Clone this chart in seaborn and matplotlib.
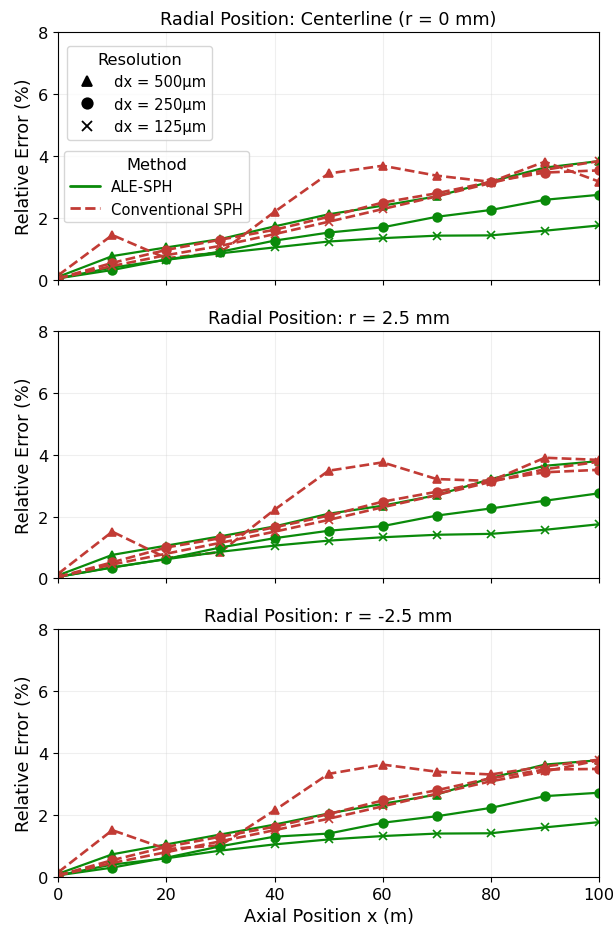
import pandas as pd
import matplotlib
matplotlib.use("Agg")
import matplotlib.pyplot as plt
import seaborn as sns
from matplotlib.lines import Line2D

sns.set_style("ticks")
plt.rcParams["text.color"] = "black"
plt.rcParams["axes.labelcolor"] = "black"
plt.rcParams["xtick.color"] = "black"
plt.rcParams["ytick.color"] = "black"

# axial positions (m)
x_pos = [0, 10, 20, 30, 40, 50, 60, 70, 80, 90, 100]

# --- Centerline (r = 0 mm) ---
c_ale_500 = [0.10, 0.77, 1.05, 1.32, 1.73, 2.12, 2.40, 2.70, 3.18, 3.63, 3.84]
c_ale_250 = [0.05, 0.32, 0.66, 0.91, 1.27, 1.53, 1.70, 2.04, 2.26, 2.59, 2.75]
c_ale_125 = [0.05, 0.40, 0.65, 0.86, 1.05, 1.24, 1.35, 1.43, 1.44, 1.59, 1.76]
c_conv_500 = [0.15, 1.45, 0.70, 0.89, 2.20, 3.44, 3.69, 3.37, 3.17, 3.82, 3.18]
c_conv_250 = [0.05, 0.55, 0.97, 1.30, 1.62, 2.04, 2.50, 2.80, 3.17, 3.47, 3.54]
c_conv_125 = [0.05, 0.45, 0.80, 1.10, 1.48, 1.88, 2.29, 2.70, 3.13, 3.56, 3.84]

# --- r = 2.5 mm ---
p_ale_500 = [0.10, 0.76, 1.06, 1.36, 1.68, 2.09, 2.35, 2.69, 3.21, 3.64, 3.79]
p_ale_250 = [0.05, 0.35, 0.63, 1.00, 1.30, 1.54, 1.69, 2.03, 2.26, 2.51, 2.75]
p_ale_125 = [0.05, 0.36, 0.62, 0.86, 1.06, 1.22, 1.33, 1.41, 1.44, 1.57, 1.75]
p_conv_500 = [0.15, 1.51, 0.66, 0.85, 2.22, 3.48, 3.75, 3.21, 3.15, 3.90, 3.83]
p_conv_250 = [0.05, 0.52, 1.00, 1.30, 1.65, 2.03, 2.48, 2.80, 3.15, 3.43, 3.51]
p_conv_125 = [0.05, 0.45, 0.80, 1.15, 1.51, 1.89, 2.30, 2.69, 3.12, 3.53, 3.77]

# --- r = -2.5 mm ---
n_ale_500 = [0.10, 0.73, 1.05, 1.37, 1.69, 2.05, 2.36, 2.66, 3.20, 3.63, 3.77]
n_ale_250 = [0.05, 0.30, 0.62, 0.99, 1.30, 1.40, 1.75, 1.96, 2.23, 2.61, 2.72]
n_ale_125 = [0.05, 0.40, 0.60, 0.85, 1.05, 1.21, 1.32, 1.40, 1.41, 1.60, 1.77]
n_conv_500 = [0.15, 1.51, 0.90, 1.02, 2.15, 3.33, 3.63, 3.40, 3.31, 3.57, 3.79]
n_conv_250 = [0.05, 0.54, 0.97, 1.30, 1.62, 2.03, 2.47, 2.80, 3.19, 3.47, 3.49]
n_conv_125 = [0.05, 0.45, 0.80, 1.15, 1.51, 1.88, 2.28, 2.69, 3.09, 3.41, 3.77]

titles = ["Radial Position: Centerline (r = 0 mm)",
          "Radial Position: r = 2.5 mm",
          "Radial Position: r = -2.5 mm"]

panels = [
    {"ALE": [c_ale_500, c_ale_250, c_ale_125], "Conv": [c_conv_500, c_conv_250, c_conv_125]},
    {"ALE": [p_ale_500, p_ale_250, p_ale_125], "Conv": [p_conv_500, p_conv_250, p_conv_125]},
    {"ALE": [n_ale_500, n_ale_250, n_ale_125], "Conv": [n_conv_500, n_conv_250, n_conv_125]},
]

resolutions = ["dx = 500\u00b5m", "dx = 250\u00b5m", "dx = 125\u00b5m"]
markers = ["^", "o", "x"]
green = "#0a8a0a"
red = "#c23b35"

fig, axes = plt.subplots(3, 1, figsize=(6.13, 9.28), dpi=100, sharex=True)
fig.subplots_adjust(left=0.095, right=0.977, top=0.964, bottom=0.054, hspace=0.206)

for ax, title, data in zip(axes, titles, panels):
    for i in range(3):
        sns.lineplot(x=x_pos, y=data["ALE"][i], ax=ax, color=green, linestyle="-",
                     linewidth=1.6, marker=markers[i], markersize=6.3,
                     markeredgecolor=green, markeredgewidth=1.2)
        sns.lineplot(x=x_pos, y=data["Conv"][i], ax=ax, color=red, linestyle="--",
                     linewidth=1.9, marker=markers[i], markersize=6.3,
                     markeredgecolor=red, markeredgewidth=1.2)
    ax.set_xlim(0, 100)
    ax.set_ylim(0, 8)
    ax.set_yticks([0, 2, 4, 6, 8])
    ax.set_xticks([0, 20, 40, 60, 80, 100])
    ax.grid(True, alpha=0.3)
    ax.set_title(title, fontsize=12.7)
    ax.set_ylabel("Relative Error (%)", fontsize=12.7)
    ax.tick_params(labelsize=11.7)
    for sp in ax.spines.values():
        sp.set_color("black")

axes[2].set_xlabel("Axial Position x (m)", fontsize=12.7)

# legends on the first panel
res_handles = [Line2D([], [], color="black", marker=m, linestyle="none", markersize=7.5,
                      markeredgewidth=1.3) for m in markers]
leg1 = axes[0].legend(res_handles, resolutions, title="Resolution", loc="upper left",
                      bbox_to_anchor=(0.016, 0.945), borderaxespad=0, fontsize=10.6,
                      title_fontsize=11.7)
axes[0].add_artist(leg1)
meth_handles = [Line2D([], [], color=green, linestyle="-", linewidth=2),
                Line2D([], [], color=red, linestyle="--", linewidth=2)]
axes[0].legend(meth_handles, ["ALE-SPH", "Conventional SPH"], title="Method",
               loc="upper left", bbox_to_anchor=(0.011, 0.521), borderaxespad=0,
               fontsize=10.6, title_fontsize=11.7)

plt.savefig("out.png", dpi=100)
